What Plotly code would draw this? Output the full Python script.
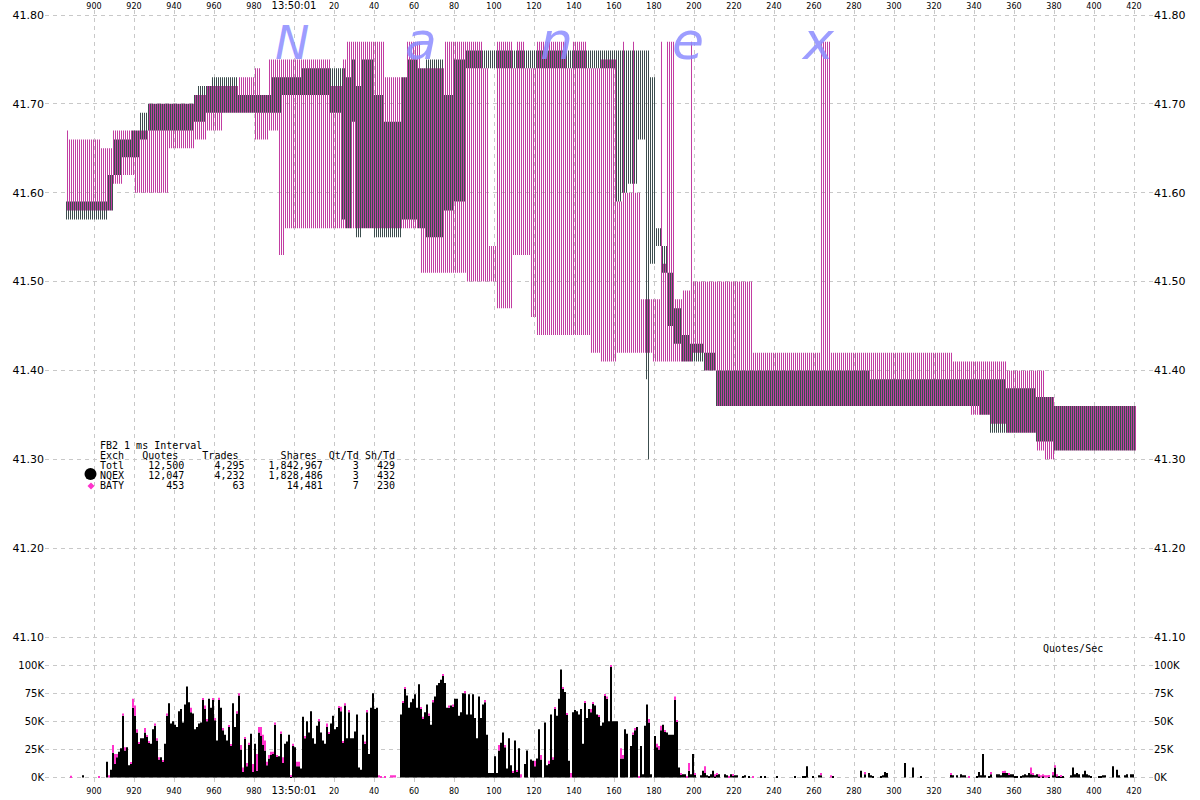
import plotly.graph_objects as go

# ---------------- axis values ----------------
# time in milliseconds after 13:50:00.000  (1000 == 13:50:01.000)
X_TICKS = list(range(900, 1421, 20))
X_TICK_TEXT = [str(v) if v < 1000 else ("13:50:01" if v == 1000 else str(v - 1000)) for v in X_TICKS]
PRICE_TICKS = [41.10, 41.20, 41.30, 41.40, 41.50, 41.60, 41.70, 41.80]
QPS_TICKS_K = [0, 25, 50, 75, 100]

# ---------------- NQEX bid/ask runs (1 ms buckets) ----------------
NQEX_START = [886, 907, 910, 914, 919, 923, 927, 950, 952, 956, 959, 972, 989, 994, 1004,
              1018, 1024, 1026, 1029, 1031, 1034, 1040, 1045, 1054, 1057, 1062, 1066, 1075, 1080,
              1086, 1161, 1164, 1167, 1172, 1176, 1177, 1178, 1181, 1184, 1187, 1190, 1194, 1198,
              1205, 1211, 1288, 1343, 1348, 1356, 1371, 1380]
NQEX_END = [906, 909, 913, 918, 922, 926, 949, 951, 955, 958, 971, 988, 993, 1003, 1017,
            1023, 1025, 1028, 1030, 1033, 1039, 1044, 1053, 1056, 1061, 1065, 1074, 1079, 1085,
            1160, 1163, 1166, 1171, 1175, 1176, 1177, 1180, 1183, 1186, 1189, 1193, 1197, 1204,
            1210, 1287, 1342, 1347, 1355, 1370, 1379, 1420]
NQEX_BID = [41.57, 41.58, 41.62, 41.64, 41.64, 41.66, 41.67, 41.68, 41.68, 41.69, 41.69, 41.69, 41.69, 41.71, 41.71,
            41.69, 41.57, 41.56, 41.68, 41.55, 41.56, 41.55, 41.55, 41.57, 41.57, 41.56, 41.55, 41.58, 41.59,
            41.74, 41.59, 41.60, 41.61, 41.66, 41.39, 41.30, 41.52, 41.54, 41.51, 41.45, 41.43, 41.41, 41.41,
            41.40, 41.36, 41.36, 41.35, 41.33, 41.33, 41.32, 41.31]
NQEX_ASK = [41.59, 41.62, 41.66, 41.66, 41.67, 41.69, 41.70, 41.71, 41.72, 41.72, 41.73, 41.71, 41.73, 41.73, 41.74,
            41.74, 41.74, 41.73, 41.75, 41.72, 41.75, 41.71, 41.68, 41.73, 41.75, 41.74, 41.75, 41.71, 41.75,
            41.76, 41.76, 41.76, 41.76, 41.76, 41.76, 41.76, 41.73, 41.56, 41.54, 41.51, 41.47, 41.44, 41.43,
            41.42, 41.40, 41.39, 41.39, 41.39, 41.38, 41.37, 41.36]

# ---------------- BATY bid/ask runs ----------------
BATY_START = [886, 887, 903, 909, 914, 920, 927, 937, 950, 956, 964, 972, 980, 983, 987, 992, 995,
              1018, 1024, 1026, 1045, 1056, 1063, 1075, 1086, 1094, 1097, 1101, 1109, 1111, 1115, 1118,
              1121, 1136, 1139, 1146, 1148, 1153, 1161, 1164, 1165, 1169, 1170, 1173, 1179, 1183, 1184,
              1186, 1190, 1194, 1198, 1199, 1205, 1211, 1229, 1263, 1268, 1329, 1338, 1348, 1356, 1371,
              1375, 1380]
BATY_END = [886, 902, 908, 913, 919, 926, 936, 949, 955, 963, 971, 979, 982, 986, 991, 994, 1017,
            1023, 1025, 1044, 1055, 1062, 1074, 1085, 1093, 1096, 1100, 1108, 1110, 1114, 1117, 1120,
            1135, 1138, 1145, 1147, 1152, 1160, 1163, 1164, 1168, 1169, 1172, 1178, 1182, 1183, 1185,
            1189, 1193, 1197, 1198, 1204, 1210, 1228, 1262, 1267, 1328, 1337, 1347, 1355, 1370, 1374,
            1379, 1420]
BATY_BID = [41.58, 41.58, 41.58, 41.61, 41.62, 41.60, 41.60, 41.65, 41.66, 41.67, 41.69, 41.69, 41.66, 41.66, 41.67, 41.53, 41.56,
            41.56, 41.56, 41.56, 41.56, 41.56, 41.51, 41.51, 41.50, 41.50, 41.50, 41.47, 41.53, 41.53, 41.53, 41.46,
            41.44, 41.44, 41.44, 41.44, 41.42, 41.41, 41.42, 41.42, 41.42, 41.42, 41.42, 41.42, 41.41, 41.41, 41.41,
            41.41, 41.41, 41.41, 41.41, 41.42, 41.40, 41.36, 41.36, 41.36, 41.36, 41.36, 41.35, 41.34, 41.33, 41.31,
            41.30, 41.31]
BATY_ASK = [41.67, 41.66, 41.65, 41.67, 41.67, 41.67, 41.70, 41.70, 41.71, 41.72, 41.72, 41.73, 41.74, 41.71, 41.75, 41.75, 41.75,
            41.72, 41.75, 41.77, 41.73, 41.77, 41.74, 41.77, 41.77, 41.74, 41.54, 41.77, 41.74, 41.77, 41.74, 41.74,
            41.77, 41.74, 41.77, 41.74, 41.74, 41.75, 41.59, 41.77, 41.60, 41.77, 41.60, 41.48, 41.48, 41.77, 41.52,
            41.77, 41.48, 41.49, 41.77, 41.50, 41.50, 41.50, 41.42, 41.77, 41.42, 41.41, 41.41, 41.41, 41.40, 41.40,
            41.37, 41.36]

# ---------------- quotes per second (thousands), one value per ms from QPS_START_MS ----------------
QPS_START_MS = 886
QPS_NQEX_K = [
    0, 0, 0, 0, 0, 0, 0, 0, 2, 0, 0, 0, 0, 0, 0, 0, 0, 0, 0, 0,            # 886
    14, 0, 7, 22, 12, 18, 23, 26, 55, 24, 27, 11, 12, 62, 55, 40, 30, 35, 35, 40,  # 906
    36, 31, 30, 43, 46, 33, 16, 18, 14, 30, 55, 66, 48, 50, 47, 45, 59, 61, 49, 65,  # 926
    81, 67, 58, 57, 43, 45, 48, 49, 69, 61, 50, 70, 62, 69, 51, 33, 69, 62, 42, 38,  # 946
    33, 45, 28, 66, 45, 57, 73, 25, 5, 35, 10, 29, 39, 5, 30, 6, 40, 37, 29, 24,     # 966
    11, 17, 20, 21, 47, 19, 19, 39, 13, 30, 32, 38, 1, 28, 27, 10, 10, 8, 54, 35,    # 986
    50, 40, 59, 35, 30, 46, 50, 40, 33, 30, 45, 39, 48, 55, 43, 45, 62, 59, 31, 64,  # 1006
    35, 58, 35, 35, 41, 56, 9, 7, 38, 30, 58, 21, 62, 75, 61, 62, 0, 0, 0, 0,        # 1026
    0, 0, 0, 0, 0, 0, 0, 56, 67, 79, 73, 62, 67, 70, 74, 62, 83, 61, 52, 58,         # 1046
    65, 55, 47, 67, 72, 82, 84, 87, 91, 84, 62, 62, 64, 63, 70, 70, 55, 58, 75, 75,  # 1066
    56, 74, 56, 74, 53, 35, 72, 53, 65, 67, 38, 4, 4, 4, 19, 4, 24, 31, 40, 27,      # 1086
    8, 35, 11, 4, 33, 5, 26, 0, 0, 12, 24, 0, 16, 15, 10, 17, 43, 16, 0, 49,         # 1106
    11, 12, 56, 16, 61, 55, 70, 96, 79, 76, 56, 15, 0, 58, 60, 59, 56, 61, 30, 67,   # 1126
    53, 61, 58, 66, 64, 56, 54, 46, 49, 73, 70, 50, 99, 50, 50, 50, 0, 17, 17, 43,   # 1146
    39, 0, 28, 38, 42, 45, 0, 28, 3, 46, 65, 49, 3, 0, 37, 27, 25, 42, 47, 41,       # 1166
    40, 38, 38, 38, 69, 50, 9, 3, 3, 3, 0, 6, 3, 21, 3, 0, 0, 2, 6, 4,               # 1186
    2, 1, 3, 6, 1, 3, 3, 0, 0, 3, 2, 0, 3, 2, 2, 2, 0, 0, 1, 2,                      # 1206
    0, 1, 0, 0, 0, 0, 0, 1, 0, 1, 0, 0, 0, 0, 0, 1, 0, 0, 0, 0,                      # 1226
    0, 0, 0, 0, 1, 0, 0, 0, 1, 1, 10, 0, 0, 1, 0, 0, 2, 2, 0, 0,                     # 1246
    0, 0, 0, 1, 0, 0, 0, 0, 0, 0, 0, 0, 0, 0, 0, 0, 0, 6, 0, 3,                      # 1266
    0, 4, 2, 1, 0, 0, 0, 1, 2, 5, 4, 0, 0, 0, 0, 0, 0, 0, 0, 13,                     # 1286
    0, 0, 0, 9, 0, 0, 0, 1, 0, 0, 0, 0, 0, 0, 0, 0, 0, 0, 0, 0,                      # 1306
    0, 0, 3, 2, 0, 2, 0, 3, 2, 2, 0, 0, 0, 0, 0, 1, 5, 2, 21, 2,                     # 1326
    0, 1, 3, 0, 0, 3, 3, 2, 4, 4, 4, 3, 3, 3, 1, 1, 0, 1, 2, 3,                      # 1346
    2, 4, 3, 3, 2, 3, 1, 0, 1, 0, 0, 1, 0, 2, 9, 1, 1, 1, 1, 0,                      # 1366
    0, 0, 2, 9, 3, 4, 3, 0, 3, 6, 3, 2, 1, 0, 0, 0, 1, 1, 2, 2,                      # 1386
    0, 0, 0, 10, 0, 7, 2, 0, 0, 2, 3, 0, 3, 3, 0,                                    # 1406
]
QPS_BATY_K = [
    0, 0, 1.5, 0, 0, 0, 0, 0, 0, 0, 0, 0, 0, 0, 0, 0, 1, 0, 0, 0,   # 886
    0, 2, 0, 7, 9, 3, 0, 0, 2, 3, 0, 0, 1, 8, 9, 3, 1, 0, 0, 4,     # 906
    1, 1, 0, 0, 2, 2, 2, 0, 1, 0, 2, 0, 0, 0, 0, 0, 0, 0, 0, 0,     # 926
    0, 0, 4, 0, 0, 0, 0, 0, 1, 3, 2, 0, 0, 1, 2, 0, 2, 0, 2, 0,     # 946
    0, 1, 1, 0, 0, 2, 2, 4, 4, 1, 3, 2, 0, 7, 0, 15, 5, 8, 9, 9,    # 966
    3, 3, 3, 2, 2, 1, 0, 2, 5, 0, 0, 0, 1, 2, 0, 4, 4, 0, 0, 2,     # 986
    0, 0, 0, 0, 0, 0, 2, 0, 0, 0, 3, 1, 0, 0, 0, 0, 1, 4, 1, 2,     # 1006
    0, 2, 0, 0, 0, 0, 0, 0, 0, 2, 2, 0, 0, 0, 0, 0, 2, 1, 0, 1,     # 1026
    0, 0, 2, 2, 2, 0, 0, 0, 1, 1, 0, 0, 0, 0, 0, 0, 0, 1, 2, 0,     # 1046
    0, 2, 0, 2, 0, 0, 0, 0, 1, 0, 0, 2, 0, 2, 0, 0, 0, 0, 0, 2,     # 1066
    0, 0, 0, 0, 0, 0, 0, 0, 0, 2, 0, 0, 0, 0, 0, 0, 5, 0, 0, 2,     # 1086
    0, 0, 0, 1, 0, 1, 0, 3, 0, 0, 0, 0, 0, 0, 5, 0, 0, 4, 0, 0,     # 1106
    0, 3, 0, 2, 1, 0, 0, 0, 1, 0, 1, 0, 4, 0, 0, 0, 0, 0, 0, 1,     # 1126
    0, 0, 3, 1, 0, 0, 1, 0, 0, 1, 2, 0, 1, 0, 0, 0, 0, 9, 3, 0,     # 1146
    0, 0, 0, 2, 2, 0, 1, 0, 0, 0, 0, 3, 0, 0, 0, 3, 3, 4, 0, 1,     # 1166
    0, 0, 0, 0, 3, 1, 0, 1, 0, 0, 1, 7, 0, 0, 1, 0, 0, 0, 0, 6,     # 1186
    0, 0, 0, 0, 2, 1, 0, 0, 0, 0, 0, 1, 0, 1, 0, 0, 0, 0, 0, 0,     # 1206
    0, 0, 0, 1, 0, 0, 0, 0, 0, 0, 0, 0, 0, 0, 0, 0, 0, 0, 0, 0,     # 1226
    0, 0, 0, 0, 0, 0, 0, 0, 0, 0, 0, 0, 0, 0, 0, 0, 0, 2, 0, 0,     # 1246
    0, 0, 2, 0, 0, 0, 0, 0, 0, 0, 0, 0, 0, 0, 0, 0, 0, 0, 0, 2,     # 1266
    0, 0, 0, 0, 0, 0, 0, 0, 0, 0, 0, 0, 0, 0, 0, 0, 0, 0, 0, 0,     # 1286
    0, 0, 0, 0, 0, 0, 0, 0, 0, 0, 0, 0, 0, 0, 0, 0, 0, 0, 0, 0,     # 1306
    0, 0, 1, 0, 0, 0, 0, 0, 0, 0, 0, 1, 0, 0, 0, 0, 0, 0, 0, 0,     # 1326
    0, 0, 2, 0, 0, 0, 0, 0, 1, 2, 0, 1, 0, 0, 0, 0, 0, 0, 0, 0,     # 1346
    0, 0, 6, 1, 0, 0, 2, 2, 2, 2, 2, 1, 0, 3, 2, 2, 0, 1, 0, 0,     # 1366
    0, 0, 0, 0, 0, 0, 0, 0, 0, 0, 0, 0, 0, 0, 0, 0, 0, 0, 0, 0,     # 1386
    0, 0, 0, 0, 0, 0, 0, 0, 0, 0, 0, 0, 0, 0, 0,                    # 1406
]

# ---------------- summary table ----------------
TABLE_TITLE = "FB2 1 ms Interval"
TABLE_HEAD = ["Exch", "Quotes", "Trades", "Shares", "Qt/Td", "Sh/Td"]
LEGEND_EXCH = ["Totl", "NQEX", "BATY"]
LEGEND_QUOTES = ["12,500", "12,047", "453"]
LEGEND_TRADES = ["4,295", "4,232", "63"]
LEGEND_SHARES = ["1,842,967", "1,828,486", "14,481"]
LEGEND_QT_TD = ["3", "3", "7"]
LEGEND_SH_TD = ["429", "432", "230"]
WATERMARK = "Nanex"

# ---------------- styling / geometry ----------------
W, H = 1200, 800
ML, MR, MT, MB = 45, 47, 10, 15
PW, PH = W - ML - MR, H - MT - MB
X_RANGE = [875.5, 1429.5]
PX_PER_DOLLAR = 888.6
PRICE_RANGE = [41.80 - (PH + MT - 15) / PX_PER_DOLLAR, 41.80 + (15 - MT) / PX_PER_DOLLAR]
PX_PER_K = 1.125
ZERO_K_PX = 777.5
QPS_RANGE = [-(H - MB - ZERO_K_PX) / PX_PER_K, (ZERO_K_PX - MT) / PX_PER_K]

NQ_LINE = "#3c4e4e"
BT_LINE = "#c23ea2"
NQ_BAR = "#000000"
BT_BAR = "#ff33cc"
GRID = "#c8c8c8"
FONT = "DejaVu Sans"
MONO = "DejaVu Sans Mono"


def px2paper(x, y):
    return (x - ML) / PW, (H - MB - y) / PH


def expand(starts, ends, bids, asks):
    t, base, h = [], [], []
    for s, e, b, a in zip(starts, ends, bids, asks):
        for ms in range(s, e + 1):
            t.append(ms)
            base.append(b)
            h.append(round(a - b, 4))
    return t, base, h


nq_t, nq_b, nq_h = expand(NQEX_START, NQEX_END, NQEX_BID, NQEX_ASK)
bt_t, bt_b, bt_h = expand(BATY_START, BATY_END, BATY_BID, BATY_ASK)
q_t = [QPS_START_MS + i for i in range(len(QPS_NQEX_K))]

fig = go.Figure()
fig.add_trace(go.Bar(x=nq_t, y=nq_h, base=nq_b, width=0.5, offset=0,
                     marker=dict(color=NQ_LINE, line=dict(width=0)),
                     xaxis="x", yaxis="y", hoverinfo="skip", showlegend=False))
fig.add_trace(go.Bar(x=bt_t, y=bt_h, base=bt_b, width=0.5, offset=0.5,
                     marker=dict(color=BT_LINE, line=dict(width=0)),
                     xaxis="x", yaxis="y3", hoverinfo="skip", showlegend=False))
fig.add_trace(go.Bar(x=q_t, y=QPS_NQEX_K, width=1, offset=0,
                     marker=dict(color=NQ_BAR, line=dict(width=0)),
                     xaxis="x", yaxis="y2", hoverinfo="skip", showlegend=False))
fig.add_trace(go.Bar(x=q_t, y=QPS_BATY_K, base=QPS_NQEX_K, width=1, offset=0,
                     marker=dict(color=BT_BAR, line=dict(width=0)),
                     xaxis="x2", yaxis="y4", hoverinfo="skip", showlegend=False))

tick_text = ['<span style="font-size:10px">%s</span>' % t if ":" in t else t for t in X_TICK_TEXT]
xcommon = dict(range=X_RANGE, tickvals=X_TICKS, ticktext=tick_text, ticks="", zeroline=False,
               showline=False, automargin=False, fixedrange=True,
               tickfont=dict(family=FONT, size=8, color="#000"))
price_text = ["%.2f" % p for p in PRICE_TICKS]
qps_text = ["%dK" % v for v in QPS_TICKS_K]
ycommon = dict(ticks="", zeroline=False, showline=False, automargin=False, fixedrange=True)

fig.update_layout(
    width=W, height=H, margin=dict(l=ML, r=MR, t=MT, b=MB),
    template="none", paper_bgcolor="white", plot_bgcolor="white",
    font=dict(family=FONT, color="#000"),
    barmode="overlay", showlegend=False,
    xaxis=dict(**xcommon, side="bottom", showgrid=True, gridcolor=GRID, griddash="4px,4px", gridwidth=1),
    xaxis2=dict(**xcommon, side="top", overlaying="x", showgrid=False, ticklabelstandoff=-2),
    yaxis=dict(**ycommon, range=PRICE_RANGE, tickvals=PRICE_TICKS, ticktext=price_text, side="left",
               showgrid=True, gridcolor=GRID, griddash="4px,4px", gridwidth=1,
               tickfont=dict(family=FONT, size=11, color="#000")),
    yaxis3=dict(**ycommon, range=PRICE_RANGE, tickvals=PRICE_TICKS, ticktext=price_text, side="right",
                overlaying="y", showgrid=False, tickfont=dict(family=FONT, size=11, color="#000")),
    yaxis2=dict(**ycommon, range=QPS_RANGE, tickvals=QPS_TICKS_K, ticktext=qps_text, side="left",
                overlaying="y", showgrid=True, gridcolor=GRID, griddash="4px,4px", gridwidth=1,
                tickfont=dict(family=FONT, size=10, color="#000")),
    yaxis4=dict(**ycommon, range=QPS_RANGE, tickvals=QPS_TICKS_K, ticktext=qps_text, side="right",
                overlaying="y", showgrid=False, tickfont=dict(family=FONT, size=10, color="#000")),
)

NB = "\u00a0"
rows = [TABLE_TITLE,
        TABLE_HEAD[0].ljust(7) + TABLE_HEAD[1].ljust(10) + TABLE_HEAD[2].ljust(13)
        + TABLE_HEAD[3].ljust(8) + TABLE_HEAD[4].ljust(6) + TABLE_HEAD[5]]
for i in range(len(LEGEND_EXCH)):
    rows.append(LEGEND_EXCH[i].ljust(4) + LEGEND_QUOTES[i].rjust(10) + LEGEND_TRADES[i].rjust(10)
                + LEGEND_SHARES[i].rjust(13) + LEGEND_QT_TD[i].rjust(6) + LEGEND_SH_TD[i].rjust(6))

annotations = []
for i, r in enumerate(rows):
    ax, ay = px2paper(98, 445 + 10.1 * i)
    annotations.append(dict(x=ax, y=ay, xref="paper", yref="paper", xanchor="left", yanchor="middle",
                            text=r.replace(" ", NB), showarrow=False,
                            font=dict(family=MONO, size=10, color="#000")))

qx, qy = px2paper(1073, 648)
annotations.append(dict(x=qx, y=qy, xref="paper", yref="paper", xanchor="center", yanchor="middle",
                        text="Quotes/Sec", showarrow=False, font=dict(family=MONO, size=10, color="#000")))

wm_pos = [(292, 43), (421, 41), (556, 41), (688, 41), (818, 41)]
wm_size = [46, 52, 52, 52, 52]
for ch, (px, py), sz in zip(WATERMARK, wm_pos, wm_size):
    ax, ay = px2paper(px, py)
    annotations.append(dict(x=ax, y=ay, xref="paper", yref="paper", xanchor="center", yanchor="middle",
                            text="<i>%s</i>" % ch, showarrow=False,
                            font=dict(family=FONT, size=sz, color="rgba(140,140,255,0.85)")))
fig.update_layout(annotations=annotations)

# legend glyphs next to the table rows
cx0, cy0 = px2paper(84.5, 468)
cx1, cy1 = px2paper(96.5, 480)
dl, dc = px2paper(87.5, 486)
dr, _ = px2paper(94.5, 486)
dm, dt = px2paper(91, 482.5)
_, db = px2paper(91, 489.5)
fig.update_layout(shapes=[
    dict(type="circle", xref="paper", yref="paper", x0=cx0, y0=cy1, x1=cx1, y1=cy0,
         fillcolor="#000", line=dict(width=0)),
    dict(type="path", xref="paper", yref="paper",
         path="M %f,%f L %f,%f L %f,%f L %f,%f Z" % (dl, dc, dm, dt, dr, dc, dm, db),
         fillcolor=BT_BAR, line=dict(width=0)),
])

# the page body has a default 8px margin; remove it so the chart sits at the window origin
fig.write_html("out.html", config={"displayModeBar": False},
               post_script="document.body.style.margin='0';")
